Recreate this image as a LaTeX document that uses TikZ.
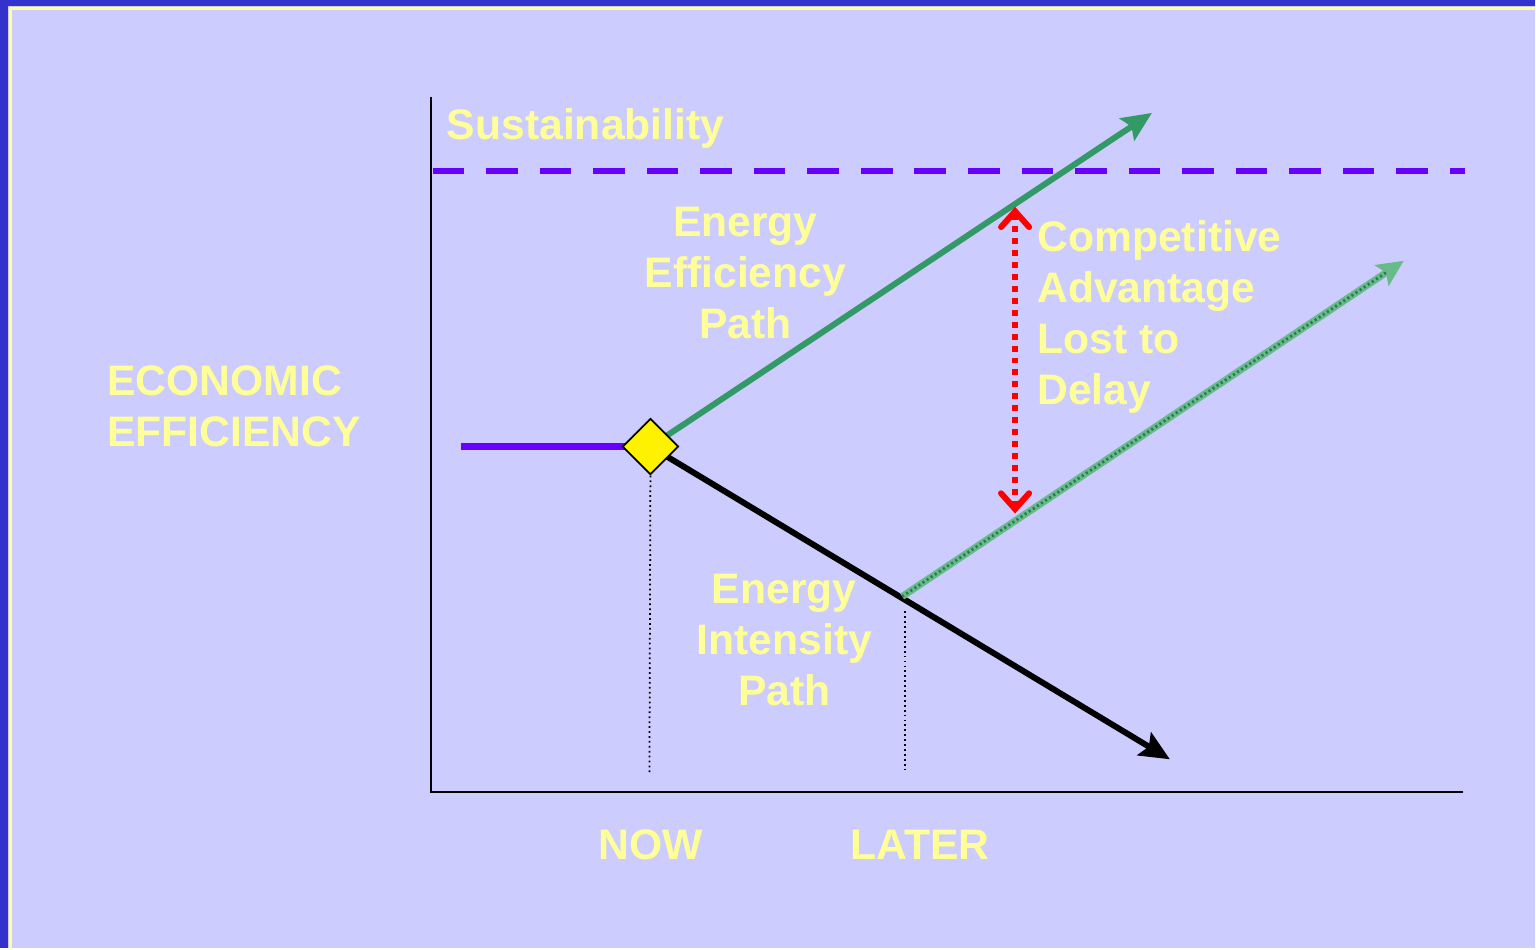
\documentclass[tikz,border=0pt]{standalone}
\usepackage{fontspec}
\setmainfont{Liberation Sans}
\usetikzlibrary{arrows.meta,shapes.geometric,positioning}
\definecolor{frameblue}{HTML}{3333CC}
\definecolor{lavender}{HTML}{CCCCFF}
\definecolor{lbl}{HTML}{FFFF99}
\definecolor{pathgreen}{HTML}{339966}
\definecolor{hatchgreen}{HTML}{66BB88}
\definecolor{sustpurple}{HTML}{6600FF}
\tikzset{
  lbltext/.style={text=lbl,font=\bfseries\fontsize{24.3}{29}\selectfont,inner sep=0pt},
  pathline/.style={line width=3.4pt,-{Stealth[length=17pt,width=15pt,inset=3pt]}},
  guide/.style={line width=1pt,dash pattern=on 1pt off 1.8pt},
}

\begin{document}
\begin{tikzpicture}[x=0.02cm,y=-0.02cm]
  % frame
  \fill[frameblue] (0,0) rectangle (1536,949);
  \fill[lavender] (8,6) rectangle (1536,949);
  \draw[lbl,line width=1.6pt] (10.5,949) -- (10.5,8.5) -- (1536,8.5);
  \useasboundingbox (0,0) rectangle (1536,949);
  % axes
  \coordinate (ytop) at (431,97);
  \coordinate (orig) at (431,793);
  \coordinate (xend) at (1464,793);
  \draw[line width=1.2pt] (ytop) -- (orig) -- (xend);
  % sustainability level
  \coordinate (s1) at (433,171);
  \coordinate (s2) at (1466,171);
  \draw[sustpurple,line width=3.4pt,dash pattern=on 18pt off 12.5pt] (s1) -- (s2);
  \node[lbltext,anchor=west] (sust) at (447,129) {Sustainability};
  % paths
  \coordinate (now) at (651,447);
  \coordinate (past) at (461,447);
  \coordinate (effend) at (1153,113);
  \coordinate (intend) at (1171,760);
  \coordinate (later) at (903,597);
  \coordinate (lateend) at (1405,261);
  \draw[sustpurple,line width=4pt] (past) -- (now);
  \draw[pathline,pathgreen] (now) -- (effend);
  \draw[pathline,black] (now) -- (intend);
  \draw[hatchgreen,line width=4pt,-{Stealth[length=15pt,width=14pt,inset=3pt]}] (later) -- (lateend);
  \draw[pathgreen!80!black,line width=1.6pt,dash pattern=on 1.2pt off 1.6pt,shorten >=12pt] (later) -- (lateend);
  \node[diamond,draw,fill=yellow,line width=1pt,inner sep=0pt,
        minimum width=32pt,minimum height=32pt] (nowmark) at (now) {};
  % time guides
  \coordinate (nowfoot) at (650,775);
  \coordinate (latertop) at (906,612);
  \coordinate (laterfoot) at (906,772);
  \draw[guide] (nowmark.south) -- (nowfoot);
  \draw[guide] (latertop) -- (laterfoot);
  % lost advantage
  \coordinate (gaptop) at (1016,207);
  \coordinate (gapbot) at (1016,514);
  \draw[red,line width=3.4pt,dash pattern=on 3.4pt off 3.4pt,
        {Straight Barb[length=9pt,width=16pt,line cap=round]}-{Straight Barb[length=9pt,width=16pt,line cap=round]}]
        (gaptop) -- (gapbot);
  % labels
  \node[lbltext,align=left,anchor=west] (econ) at (107,407) {ECONOMIC\\EFFICIENCY};
  \node[lbltext,align=center] (effpath) at (746,273) {Energy\\Efficiency\\Path};
  \node[lbltext,align=center] (intpath) at (785,641) {Energy\\Intensity\\Path};
  \node[lbltext,align=left,anchor=west] (lost) at (1038,317) {Competitive\\Advantage\\Lost to\\Delay};
  \node[lbltext] (nowlbl) at (651,846) {NOW};
  \node[lbltext] (laterlbl) at (921,846) {LATER};
\end{tikzpicture}
\end{document}
